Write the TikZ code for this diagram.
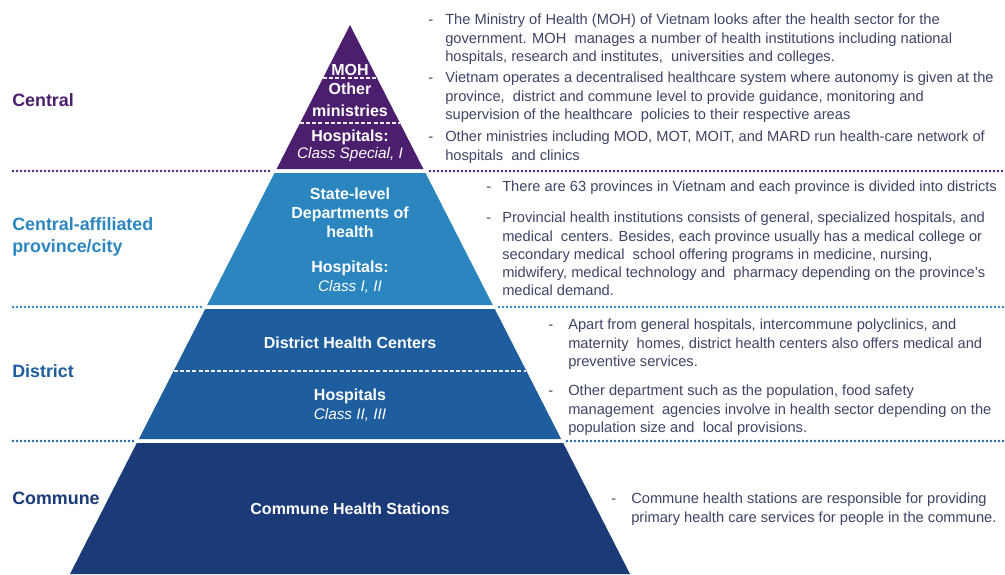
\documentclass[tikz,border=0pt]{standalone}
\usepackage{fontspec}
\setmainfont{Liberation Sans}
\definecolor{cpur}{HTML}{4B1E6E}
\definecolor{clb}{HTML}{2B86BF}
\definecolor{cmb}{HTML}{1F5E9E}
\definecolor{cdb}{HTML}{1B3A78}
\definecolor{ctxt}{HTML}{3E4466}
\begin{document}
\begin{tikzpicture}[x=0.75pt,y=-0.75pt,
  ptext/.style={text=white, font=\fontsize{12}{14.25}\selectfont\bfseries, align=center, inner sep=0pt},
  pital/.style={text=white, font=\fontsize{11.5}{14}\selectfont\itshape, align=center, inner sep=0pt},
  desc/.style={text=ctxt, font=\fontsize{11}{13.6}\selectfont, align=left, anchor=north west, inner sep=0pt},
  bullet/.style={text=ctxt, font=\fontsize{11}{13.6}\selectfont, anchor=base west, inner sep=0pt},
  lvl/.style={font=\fontsize{13.4}{16.5}\selectfont\bfseries, align=left, anchor=west, inner sep=0pt},
  dotline/.style={line width=2pt, dash pattern=on 0pt off 3pt, line cap=round},
  inner/.style={white!85!gray, line width=0.8pt, dash pattern=on 3pt off 1.6pt}]
\useasboundingbox (0,0) rectangle (1005,574);
% pyramid tiers
\fill[cpur] (350,25) -- (423.4,169) -- (276.6,169) -- cycle;
\fill[clb] (274.5,173) -- (425.5,173) -- (492.8,305) -- (207.2,305) -- cycle;
\fill[cmb] (205.2,309) -- (494.8,309) -- (561.1,439) -- (138.9,439) -- cycle;
\fill[cdb] (136.8,443) -- (563.2,443) -- (630,574) -- (70,574) -- cycle;
% inner dashed dividers
\draw[inner] (323,78) -- (377,78);
\draw[inner] (300,123) -- (400,123);
\draw[inner] (174,371) -- (526,371);
% dotted separators
\draw[dotline, cpur] (13,171) -- (270,171);
\draw[dotline, cpur] (430,171) -- (1003,171);
\draw[dotline, clb] (13,307) -- (201,307);
\draw[dotline, clb] (499,307) -- (1003,307);
\draw[dotline, cmb] (13,441) -- (133,441);
\draw[dotline, cmb] (567,441) -- (1003,441);
% pyramid texts
\node[ptext] (moh) at (350,70) {MOH};
\node[ptext, font=\fontsize{12}{16.5}\selectfont\bfseries] (oth) at (350,100) {Other\\ministries};
\node[ptext] (h1) at (350,137) {Hospitals:};
\node[pital] (c1) at (350,155) {Class Special, I};
\node[ptext] (dep) at (350,213) {State-level\\Departments of\\health};
\node[ptext] (h2) at (350,268) {Hospitals:};
\node[pital] (c2) at (350,287) {Class I, II};
\node[ptext] (dhc) at (350,343) {District Health Centers};
\node[ptext] (h3) at (350,396) {Hospitals};
\node[pital] (c3) at (350,415) {Class II, III};
\node[ptext] (chs) at (350,509) {Commune Health Stations};
% level labels
\node[lvl, text=cpur] (lc) at (12,100) {Central};
\node[lvl, text=clb] (lp) at (12,237) {Central-affiliated\\province/city};
\node[lvl, text=cmb] (ld) at (12,371) {District};
\node[lvl, text=cdb] (lm) at (12,498) {Commune};
% descriptions
\node[bullet] (b1) at (428,24.5) {-};
\node[desc] (d1) at (445,14) {The Ministry of Health (MOH) of Vietnam looks after the health sector for the\\government. MOH\ \ manages a number of health institutions including national\\hospitals, research and institutes,\ \ universities and colleges.};
\node[bullet] (b2) at (428,82.5) {-};
\node[desc] (d2) at (445,72) {Vietnam operates a decentralised healthcare system where autonomy is given at the\\province,\ \ district and commune level to provide guidance, monitoring and\\supervision of the healthcare\ \ policies to their respective areas};
\node[bullet] (b3) at (428,141.5) {-};
\node[desc] (d3) at (445,131) {Other ministries including MOD, MOT, MOIT, and MARD run health-care network of\\hospitals\ \ and clinics};
\node[bullet] (b4) at (486,191.5) {-};
\node[desc] (d4) at (502,181) {There are 63 provinces in Vietnam and each province is divided into districts};
\node[bullet] (b5) at (486,222.5) {-};
\node[desc] (d5) at (502,212) {Provincial health institutions consists of general, specialized hospitals, and\\medical\ \ centers. Besides, each province usually has a medical college or\\secondary medical\ \ school offering programs in medicine, nursing,\\midwifery, medical technology and\ \ pharmacy depending on the province's\\medical demand.};
\node[bullet] (b6) at (548,329.5) {-};
\node[desc] (d6) at (568,319) {Apart from general hospitals, intercommune polyclinics, and\\maternity\ \ homes, district health centers also offers medical and\\preventive services.};
\node[bullet] (b7) at (548,395.5) {-};
\node[desc] (d7) at (568,385) {Other department such as the population, food safety\\management\ \ agencies involve in health sector depending on the\\population size and\ \ local provisions.};
\node[bullet] (b8) at (611,503.5) {-};
\node[desc] (d8) at (631,493) {Commune health stations are responsible for providing\\primary health care services for people in the commune.};
\end{tikzpicture}
\end{document}
